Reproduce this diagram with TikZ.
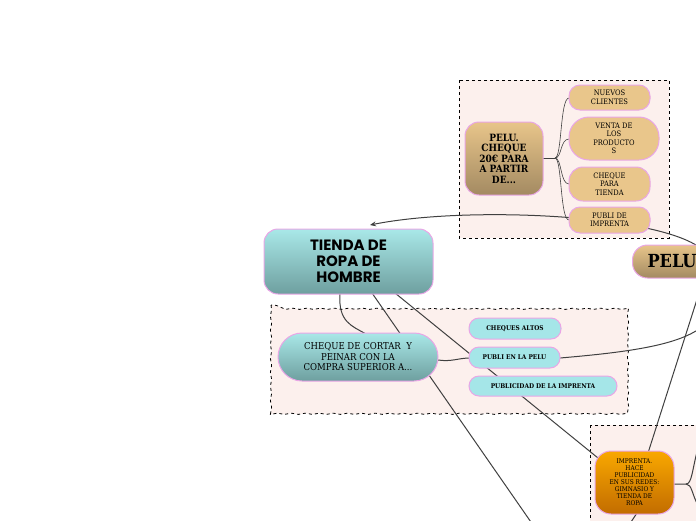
\documentclass[tikz,border=0pt]{standalone}
\usepackage{fontspec}
\setmainfont{DejaVu Serif}
\newfontfamily\heavyfont{Poppins}
\newfontfamily\slabc{DejaVu Serif Condensed}
\usetikzlibrary{arrows.meta,decorations.pathmorphing}
\definecolor{boxfill}{HTML}{FCF0ED}
\definecolor{pinkb}{HTML}{E9A6E6}
\definecolor{tealtop}{HTML}{A9E8E8}
\definecolor{tealbot}{HTML}{6E9F9F}
\definecolor{tantop}{HTML}{E8C58A}
\definecolor{tanbot}{HTML}{A38A62}
\definecolor{tanchild}{HTML}{E9C68B}
\definecolor{cyanchild}{HTML}{A5E6E8}
\definecolor{orgtop}{HTML}{F9A800}
\definecolor{orgbot}{HTML}{C26C00}
\definecolor{linec}{HTML}{404040}
\tikzset{
  bx/.style={draw=pinkb, line width=1pt, align=center, inner sep=0pt},
  frame/.style={draw=black, dashed, line width=0.8pt, fill=boxfill},
  conn/.style={draw=linec, line width=1pt},
}
\begin{document}
\begin{tikzpicture}[x=1pt,y=-1pt]
\useasboundingbox (0,0) rectangle (696,520);
\clip (0,0) rectangle (696,520);
% frames
\draw[frame] (459,80) rectangle (669,238);
\draw[frame, decorate, decoration={snake, amplitude=0.6pt, segment length=14pt}] (271,305) rectangle (627,410);
\draw[frame] (590,425) rectangle (705,530);

% coordinates off picture
\coordinate (pelusrc) at (705,252);
\coordinate (offbot) at (533,525);
\coordinate (offbot2) at (629,525);
\coordinate (offright) at (703,326);
\coordinate (offright2) at (700,290);
\coordinate (imr1) at (698,448);
\coordinate (imr2) at (698,505);

% connectors (drawn first, under nodes)
\draw[conn, -{Stealth[length=6pt,width=5pt]}] (pelusrc) .. controls (670,215) and (470,205) .. (370,225);
\draw[conn] (340,294) .. controls (338,322) and (352,326) .. (366,334);
\draw[conn] (372,293) -- (offbot);
\draw[conn] (395,293) -- (598,458);
\draw[conn] (438,360) .. controls (452,362) and (458,358) .. (470,358);
\draw[conn] (560,358) .. controls (630,352) and (680,345) .. (offright);
\draw[conn] (648,453) -- (offright2);
\draw[conn] (637,513) -- (offbot2);
\draw[conn] (674,484) -- (686,484) .. controls (692,484) and (692,470) .. (imr1);
\draw[conn] (686,484) .. controls (692,484) and (692,495) .. (imr2);
\draw[conn] (543,158) -- (555,158);
\draw[conn, line width=0.6pt] (555,158) .. controls (562,158) and (560,98) .. (569,98);
\draw[conn, line width=0.6pt] (555,158) .. controls (562,158) and (560,139) .. (569,139);
\draw[conn, line width=0.6pt] (555,158) .. controls (562,158) and (560,184) .. (569,184);
\draw[conn, line width=0.6pt] (555,158) .. controls (562,158) and (560,220) .. (569,220);

% nodes
\node[bx, rounded corners=14pt, top color=tealtop, bottom color=tealbot, minimum width=169pt, minimum height=65pt, font=\heavyfont\bfseries\fontsize{15}{16}\selectfont] (tienda) at (348.5,261.5) {TIENDA DE\\ROPA DE\\HOMBRE};

\node[bx, rounded corners=14pt, top color=tantop, bottom color=tanbot, minimum width=78pt, minimum height=73pt, font=\slabc\bfseries\fontsize{10}{10.5}\selectfont] (peluc) at (504,158.5) {PELU.\\CHEQUE\\20€ PARA\\A PARTIR\\DE...};

\node[bx, rounded corners=11pt, fill=tanchild, minimum width=81pt, minimum height=25pt, font=\slabc\fontsize{7.5}{8.5}\selectfont] (nuevos) at (609.5,97.5) {NUEVOS\\CLIENTES};
\node[bx, rounded corners=20pt, fill=tanchild, minimum width=90pt, minimum height=43pt, font=\slabc\fontsize{7.5}{8.5}\selectfont] (venta) at (614,138.5) {VENTA DE\\LOS\\PRODUCTO\\S};
\node[bx, rounded corners=14pt, fill=tanchild, minimum width=81pt, minimum height=34pt, font=\slabc\fontsize{7.5}{8.5}\selectfont] (chequet) at (609.5,184) {CHEQUE\\PARA\\TIENDA};
\node[bx, rounded corners=11pt, fill=tanchild, minimum width=81pt, minimum height=26pt, font=\slabc\fontsize{7.5}{8.5}\selectfont] (publiimp) at (609.5,220) {PUBLI DE\\IMPRENTA};

\node[bx, rounded corners=15pt, top color=tantop, bottom color=tanbot, minimum width=110pt, minimum height=33pt, anchor=west, text width=100pt, align=left, font=\slabc\bfseries\fontsize{18}{20}\selectfont] (pelu) at (632,261.5) {\hspace*{10pt}PELU};

\node[bx, rounded corners=24pt, top color=tealtop, bottom color=tealbot, minimum width=160pt, minimum height=48pt, font=\slabc\fontsize{9.5}{10.5}\selectfont] (cheque) at (358,357) {CHEQUE DE CORTAR\ \ Y\\PEINAR CON LA\\COMPRA SUPERIOR A...};

\node[bx, rounded corners=10pt, fill=cyanchild, minimum width=92pt, minimum height=21pt, font=\slabc\bfseries\fontsize{6.5}{7}\selectfont] (altos) at (515,328.5) {CHEQUES ALTOS};
\node[bx, rounded corners=10pt, fill=cyanchild, minimum width=91pt, minimum height=21pt, font=\slabc\bfseries\fontsize{6.5}{7}\selectfont] (publipelu) at (514.5,357.5) {PUBLI EN LA PELU};
\node[bx, rounded corners=10pt, fill=cyanchild, minimum width=148pt, minimum height=20pt, font=\slabc\bfseries\fontsize{6.5}{7}\selectfont] (publicidad) at (543,386) {PUBLICIDAD DE LA IMPRENTA};

\node[bx, rounded corners=16pt, top color=orgtop, bottom color=orgbot, minimum width=79pt, minimum height=63pt, font=\slabc\fontsize{6.5}{7}\selectfont] (imprenta) at (634.5,482.5) {IMPRENTA.\\HACE\\PUBLICIDAD\\EN SUS REDES:\\GIMNASIO Y\\TIENDA DE\\ROPA};
\end{tikzpicture}
\end{document}
